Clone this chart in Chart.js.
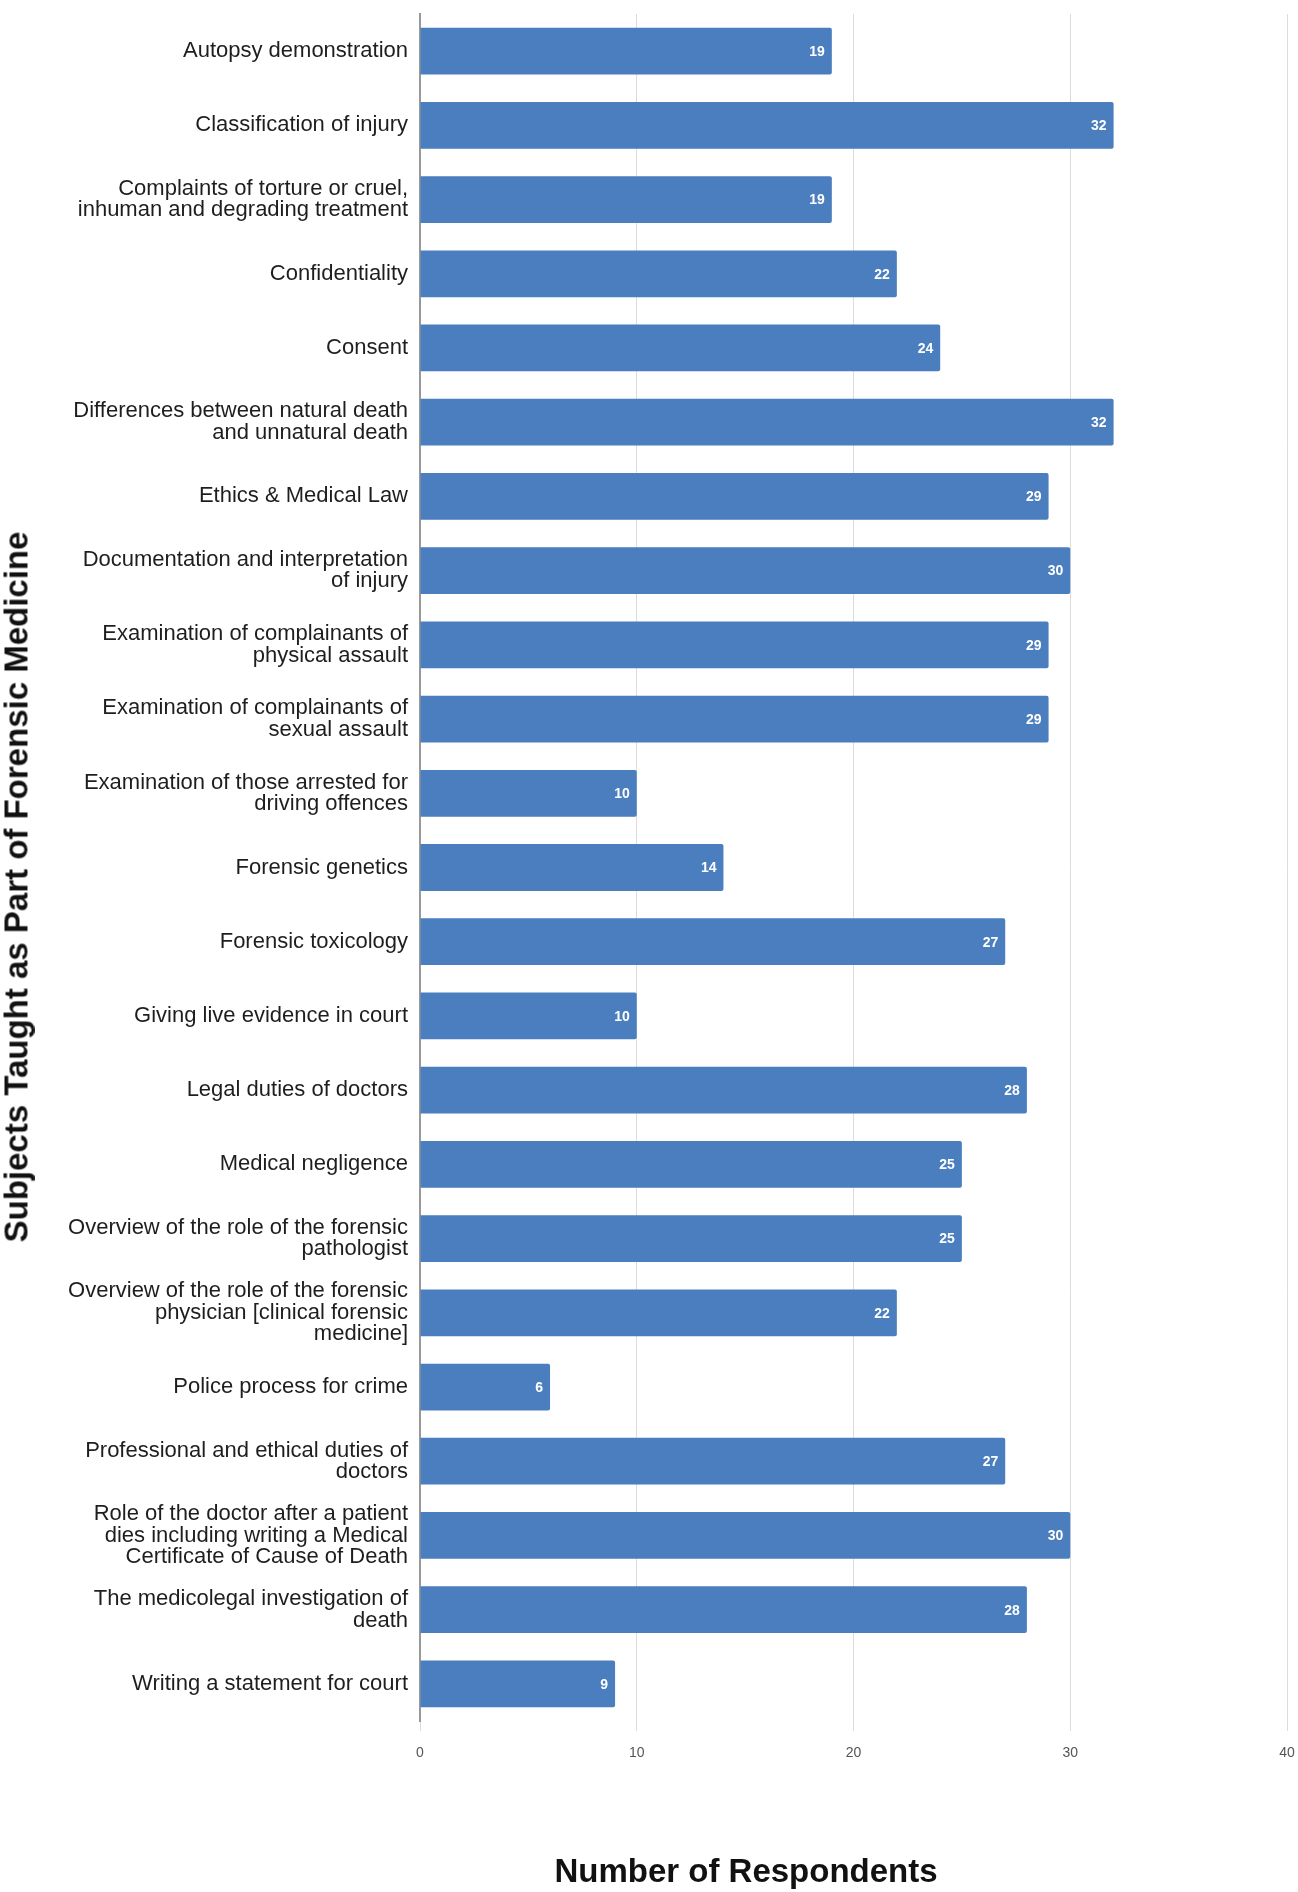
<!DOCTYPE html>
<html>
<head>
<meta charset="utf-8">
<script src="https://cdn.jsdelivr.net/npm/chart.js@4.4.0/dist/chart.umd.min.js"></script>
<style>
    body { margin: 0; background: #fff; overflow: hidden; }
    #wrap { position: relative; width: 1298px; height: 1892px; }
    #xTitle {
        position: absolute;
        left: 200px; width: 1092px;
        top: 1852px;
        text-align: center;
        font: bold 33px 'Liberation Sans', Arial, sans-serif;
        color: #111;
    }
    #yTitle {
        position: absolute;
        left: 16px; top: 887px;
        transform: translate(-50%, -50%) rotate(-90deg);
        white-space: nowrap;
        font: bold 33px 'Liberation Sans', Arial, sans-serif;
        line-height: 1;
        color: #111;
    }
</style>
</head>
<body>
<div id="wrap">
    <canvas id="subjectsChart"></canvas>
    <div id="yTitle">Subjects Taught as Part of Forensic Medicine</div>
    <div id="xTitle">Number of Respondents</div>
</div>
<script>
// Categories (subjects), top to bottom
const SUBJECTS = [
    'Autopsy demonstration',
    'Classification of injury',
    ['Complaints of torture or cruel,', 'inhuman and degrading treatment'],
    'Confidentiality',
    'Consent',
    ['Differences between natural death', 'and unnatural death'],
    'Ethics & Medical Law',
    ['Documentation and interpretation', 'of injury'],
    ['Examination of complainants of', 'physical assault'],
    ['Examination of complainants of', 'sexual assault'],
    ['Examination of those arrested for', 'driving offences'],
    'Forensic genetics',
    'Forensic toxicology',
    'Giving live evidence in court',
    'Legal duties of doctors',
    'Medical negligence',
    ['Overview of the role of the forensic', 'pathologist'],
    ['Overview of the role of the forensic', 'physician [clinical forensic', 'medicine]'],
    'Police process for crime',
    ['Professional and ethical duties of', 'doctors'],
    ['Role of the doctor after a patient', 'dies including writing a Medical', 'Certificate of Cause of Death'],
    ['The medicolegal investigation of', 'death'],
    'Writing a statement for court'
];

// Number of respondents per subject
const RESPONDENTS = [19, 32, 19, 22, 24, 32, 29, 30, 29, 29, 10, 14, 27, 10, 28, 25, 25, 22, 6, 27, 30, 28, 9];

// Axis settings
const X_MIN = 0;
const X_MAX = 40;
const X_STEP = 10;

const BAR_COLOR = '#4a7ebf';
const FONT = "'Liberation Sans', Arial, sans-serif";

// Value labels inside the bar ends
const barValueLabels = {
    id: 'barValueLabels',
    afterDatasetsDraw(chart) {
        const ctx = chart.ctx;
        const meta = chart.getDatasetMeta(0);
        ctx.save();
        ctx.fillStyle = '#ffffff';
        ctx.font = 'bold 14px ' + FONT;
        ctx.textAlign = 'right';
        ctx.textBaseline = 'middle';
        meta.data.forEach((bar, i) => {
            ctx.fillText(RESPONDENTS[i], bar.x - 7, bar.y + 1);
        });
        ctx.restore();
    }
};

const ctx = document.getElementById('subjectsChart').getContext('2d');
new Chart(ctx, {
    type: 'bar',
    data: {
        labels: SUBJECTS,
        datasets: [{
            data: RESPONDENTS,
            backgroundColor: BAR_COLOR,
            borderRadius: 2,
            borderSkipped: 'start',
            barPercentage: 0.63,
            categoryPercentage: 1
        }]
    },
    options: {
        indexAxis: 'y',
        responsive: true,
        maintainAspectRatio: false,
        animation: false,
        devicePixelRatio: 1,
        layout: { padding: { top: 14, right: 11, bottom: 0, left: 0 } },
        plugins: {
            legend: { display: false },
            tooltip: { enabled: false }
        },
        scales: {
            x: {
                min: X_MIN,
                max: X_MAX,
                ticks: {
                    stepSize: X_STEP,
                    padding: 14,
                    color: '#555',
                    font: { family: FONT, size: 14 }
                },
                grid: {
                    color: '#dcdcdc',
                    lineWidth: 1,
                    drawTicks: true,
                    tickLength: 10
                },
                border: { display: false },
                afterFit(scale) {
                    scale.height = 171;
                    scale.paddingLeft = 0;
                    scale.paddingRight = 0;
                }
            },
            y: {
                ticks: {
                    autoSkip: false,
                    padding: 12,
                    color: '#1e1e1e',
                    font: { family: FONT, size: 22, lineHeight: 0.98 }
                },
                grid: { display: false, drawTicks: false },
                border: { display: true, color: '#999', width: 2 },
                afterFit(scale) {
                    scale.width = 420;
                    scale.paddingTop = 0;
                    scale.paddingBottom = 0;
                }
            }
        }
    },
    plugins: [barValueLabels]
});
</script>
</body>
</html>
